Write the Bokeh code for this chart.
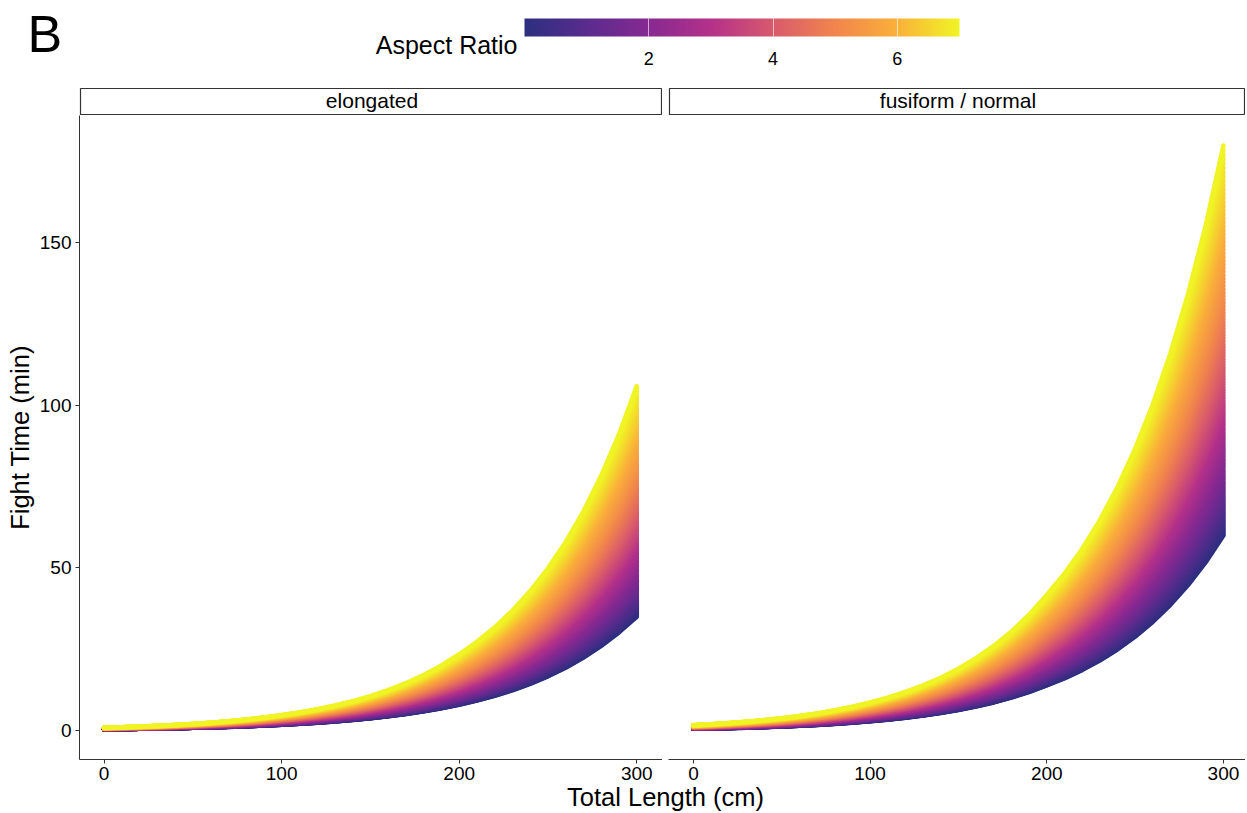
import numpy as np
from bokeh.plotting import figure
from bokeh.models import (ColumnDataSource, LinearColorMapper, ColorBar, FixedTicker,
                          Label, Range1d, Spacer)
from bokeh.layouts import column, row
from bokeh.transform import linear_cmap
from bokeh.embed import file_html
from bokeh.resources import INLINE

# ---------------- data ----------------
total_length = [0, 10, 20, 30, 40, 50, 60, 70, 80, 90, 100, 110, 120, 130, 140, 150,
                160, 170, 180, 190, 200, 210, 220, 230, 240, 250, 260, 270, 280, 290, 300]
# fight time (min) along the lowest aspect-ratio edge and the highest aspect-ratio edge
elong_low = [0.41, 0.48, 0.56, 0.64, 0.75, 0.87, 1.00, 1.16, 1.35, 1.56, 1.81, 2.10, 2.44,
             2.83, 3.28, 3.80, 4.41, 5.11, 5.93, 6.87, 7.97, 9.24, 10.71, 12.42, 14.40,
             16.70, 19.36, 22.45, 26.03, 30.19, 35.0]
elong_high = [0.90, 1.06, 1.26, 1.49, 1.76, 2.08, 2.46, 2.91, 3.43, 4.06, 4.80, 5.63, 6.60,
              7.73, 9.06, 10.62, 12.45, 14.59, 17.10, 20.04, 23.49, 27.31, 31.75, 36.91,
              42.91, 49.88, 57.99, 67.41, 78.37, 91.10, 105.9]
fusi_low = [0.57, 0.67, 0.79, 0.92, 1.09, 1.28, 1.51, 1.77, 2.09, 2.46, 2.90, 3.39, 3.97,
            4.64, 5.43, 6.35, 7.42, 8.68, 10.16, 11.88, 13.90, 16.08, 18.61, 21.54, 24.93,
            28.86, 33.40, 38.67, 44.73, 51.77, 60.0]
fusi_high = [1.70, 2.00, 2.36, 2.77, 3.26, 3.84, 4.52, 5.32, 6.26, 7.37, 8.70, 10.18, 11.90,
             13.92, 16.28, 19.04, 22.27, 26.05, 30.47, 35.64, 41.68, 48.24, 55.84, 64.63,
             74.80, 86.57, 100.2, 116.0, 134.2, 155.3, 179.8]
aspect_ratio_range = [0.0, 7.0]
panel_names = ["elongated", "fusiform / normal"]
x_ticks = [0, 100, 200, 300]
y_ticks = [0, 50, 100, 150]
cbar_ticks = [2, 4, 6]

FONT = "Liberation Sans"
AXIS_COL = "#333333"
ar_lo, ar_hi = aspect_ratio_range
ar_levels = np.linspace(ar_lo, ar_hi, 141)

# plasma-like palette as it appears in the reference (muted dark end)
_anchors = ["#2C2F7F", "#5A2C8E", "#872991", "#B4318A", "#D85A6C", "#F1854D", "#FAB03A", "#F0F424"]


def _build_palette(anchors, n=256):
    rgb = np.array([[int(c[i:i + 2], 16) for i in (1, 3, 5)] for c in anchors], float)
    pos = np.linspace(0, 1, len(anchors))
    t = np.linspace(0, 1, n)
    cols = np.stack([np.interp(t, pos, rgb[:, k]) for k in range(3)], axis=1)
    return ["#%02x%02x%02x" % tuple(int(round(v)) for v in c) for c in cols]


PALETTE = _build_palette(_anchors)


def curves(low, high):
    low = np.asarray(low, float)
    high = np.asarray(high, float)
    xs, ys, ars = [], [], []
    for a in ar_levels:
        t = (a - ar_lo) / (ar_hi - ar_lo)
        xs.append(list(total_length))
        ys.append(list(low ** (1 - t) * high ** t))
        ars.append(a)
    return ColumnDataSource(dict(xs=xs, ys=ys, ar=ars))


Y_RANGE = (-8.85, 189.0)
LEFT_B = 79
FW_L = 583
GAP = 6
FW_R = 577
FRAME_H = 645
BOTTOM_B = 22
PANEL_H = FRAME_H + BOTTOM_B
TOTAL_W = LEFT_B + FW_L + GAP + FW_R


def style_axis(ax):
    ax.major_label_text_font_size = "19px"
    ax.major_label_text_font = FONT
    ax.major_label_text_color = "black"
    ax.axis_line_color = AXIS_COL
    ax.major_tick_line_color = AXIS_COL
    ax.major_tick_out = 4
    ax.major_tick_in = 0
    ax.minor_tick_line_color = None


def panel(low, high, show_y, x_range):
    w = (LEFT_B + FW_L) if show_y else (GAP + FW_R)
    p = figure(width=w, height=PANEL_H,
               x_range=Range1d(*x_range), y_range=Range1d(*Y_RANGE),
               output_backend="svg", toolbar_location=None,
               y_axis_location="left" if show_y else None,
               min_border_left=LEFT_B if show_y else GAP,
               min_border_right=0, min_border_top=0, min_border_bottom=BOTTOM_B)
    p.outline_line_color = None
    p.grid.visible = False
    src = curves(low, high)
    p.multi_line("xs", "ys", source=src,
                 line_color=linear_cmap("ar", PALETTE, ar_lo, ar_hi),
                 line_width=4.5, line_cap="round", line_join="round")
    ax = p.xaxis[0]
    ax.ticker = FixedTicker(ticks=x_ticks)
    style_axis(ax)
    ax.major_label_standoff = 3
    if show_y:
        ay = p.yaxis[0]
        ay.ticker = FixedTicker(ticks=y_ticks)
        style_axis(ay)
        ay.major_label_standoff = 4
        ay.axis_label = "Fight Time (min)"
        ay.axis_label_text_font = FONT
        ay.axis_label_text_font_size = "25.5px"
        ay.axis_label_text_font_style = "normal"
        ay.axis_label_text_color = "black"
        ay.axis_label_standoff = 3
    return p


def blank(w, h, border=0):
    p = figure(width=w, height=h, x_range=Range1d(0, w), y_range=Range1d(0, h),
               output_backend="svg", toolbar_location=None,
               x_axis_location=None, y_axis_location=None,
               min_border_left=border, min_border_right=border,
               min_border_top=border, min_border_bottom=border)
    p.grid.visible = False
    p.outline_line_color = None
    return p


# ---------------- header ----------------
HEADER_H = 87
header = blank(TOTAL_W, HEADER_H)
header.add_layout(Label(x=27, y=53.5, x_units="screen", y_units="screen", text="B",
                        text_font=FONT, text_font_size="52px", text_color="black",
                        text_baseline="middle"))
header.add_layout(Label(x=517, y=43, x_units="screen", y_units="screen", text="Aspect Ratio",
                        text_font=FONT, text_font_size="25px", text_color="black",
                        text_align="right", text_baseline="middle"))
mapper = LinearColorMapper(palette=PALETTE, low=ar_lo, high=ar_hi)
cbar = ColorBar(color_mapper=mapper, orientation="horizontal", width=435, height=18,
                location=(524, 20), padding=0, margin=0,
                ticker=FixedTicker(ticks=cbar_ticks),
                major_label_text_font=FONT, major_label_text_font_size="18px",
                major_label_text_color="black",
                major_tick_line_color="white", major_tick_line_alpha=0.6,
                major_tick_in=18, major_tick_out=0, minor_tick_line_color=None,
                label_standoff=15, bar_line_color=None,
                background_fill_alpha=0, border_line_color=None)
header.add_layout(cbar)

# ---------------- strips ----------------
STRIP_H = 28


def strip(w, text):
    p = blank(w, STRIP_H, border=1)
    p.outline_line_color = AXIS_COL
    p.outline_line_width = 1.2
    p.add_layout(Label(x=w / 2, y=STRIP_H / 2, x_units="screen", y_units="screen",
                       text=text, text_font=FONT, text_font_size="21px",
                       text_color="black", text_align="center", text_baseline="middle"))
    return p


strip_row = row(Spacer(width=LEFT_B, height=STRIP_H), strip(FW_L, panel_names[0]),
                Spacer(width=GAP, height=STRIP_H), strip(FW_R, panel_names[1]))

# ---------------- panels ----------------
p_left = panel(elong_low, elong_high, True, (-13.85, 314.5))
p_right = panel(fusi_low, fusi_high, False, (-14.1, 312.5))
panel_row = row(p_left, p_right)

# ---------------- footer ----------------
FOOT_H = 30
footer = blank(TOTAL_W, FOOT_H)
footer.add_layout(Label(x=665, y=16, x_units="screen", y_units="screen",
                        text="Total Length (cm)", text_font=FONT, text_font_size="25.5px",
                        text_color="black", text_align="center", text_baseline="middle"))

layout = column(header, strip_row, panel_row, footer)
open("out.html", "w").write(file_html(layout, INLINE))
